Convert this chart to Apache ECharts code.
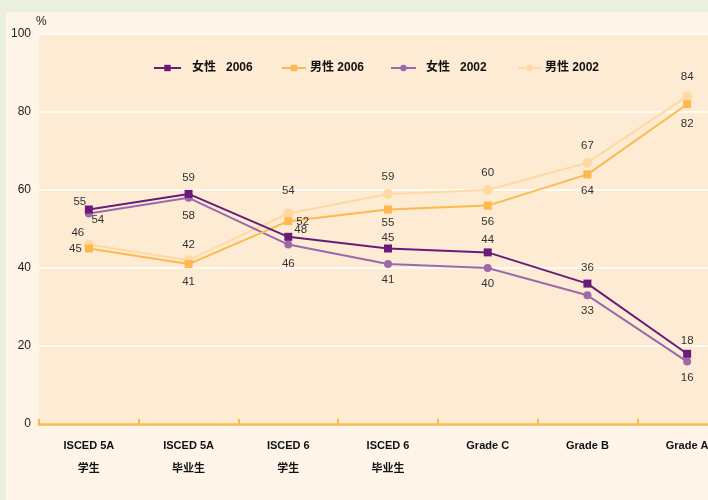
<!DOCTYPE html>
<html>
<head>
<meta charset="utf-8">
<script src="https://cdn.jsdelivr.net/npm/echarts@6/dist/echarts.min.js"></script>
<style>
  html, body { margin: 0; padding: 0; background: #E9F1DE; width: 708px; height: 500px; overflow: hidden; }
  #main { position: absolute; left: 6px; top: 12px; width: 702px; height: 488px; }
</style>
</head>
<body>
<div id="main"></div>
<script>
// 数据
var categories = ['ISCED 5A\n学生', 'ISCED 5A\n毕业生', 'ISCED 6\n学生', 'ISCED 6\n毕业生', 'Grade C', 'Grade B', 'Grade A'];
var seriesNames = ['女性   2006', '男性 2006', '女性   2002', '男性 2002'];
var female2006 = [55, 59, 48, 45, 44, 36, 18];
var male2006 = [45, 41, 52, 55, 56, 64, 82];
var female2002 = [54, 58, 46, 41, 40, 33, 16];
var male2002 = [46, 42, 54, 59, 60, 67, 84];

// 标签位置 (style only)
var female2006Lbl = [{position: 'top', offset: [-9, 8]}, {}, {position: 'right', offset: [-4, -7]}, {position: 'top', offset: [0, 5]}, {position: 'top', offset: [0, 3]}, {}, {position: 'top', offset: [0, 3]}];
var male2006Lbl = [{position: 'left', offset: [3, 0]}, {position: 'bottom', offset: [0, 2]}, {position: 'right', offset: [-2, 1]}, {position: 'bottom', offset: [0, -3]}, {}, {}, {position: 'bottom', offset: [0, 4]}];
var female2002Lbl = [{position: 'bottom', offset: [9, -10]}, {position: 'bottom', offset: [0, 2]}, {position: 'bottom', offset: [0, 3]}, {}, {}, {}, {}];
var male2002Lbl = [{position: 'top', offset: [-11, 5]}, {position: 'top', offset: [0, 2]}, {position: 'top', offset: [0, -6]}, {}, {}, {}, {position: 'top', offset: [0, -3]}];

function build(values, lbls) {
    return values.map(function (v, i) {
        var item = {value: v};
        if (lbls[i].position) item.label = lbls[i];
        return item;
    });
}

var lblStyle = {fontSize: 11.5, color: '#333', fontFamily: 'Liberation Sans, Arial, sans-serif', distance: 6};
var legendText = {fontSize: 12, fontWeight: 'bold', color: '#111', fontFamily: 'Liberation Sans, Noto Sans CJK SC, sans-serif'};

// 每个图例单独放置
var legendLeft = [142, 270, 379, 506];
var legendWidth = [27, 24, 25, 23];
var legendPad = [6, -1, 5, -1];
var legends = seriesNames.map(function (n, i) {
    return {
        top: 45,
        left: legendLeft[i],
        itemWidth: legendWidth[i],
        itemHeight: 8,
        textStyle: Object.assign({padding: [0, 0, 0, legendPad[i]]}, legendText),
        data: [n]
    };
});

var option = {
    backgroundColor: '#FEF4E8',
    animation: false,
    legend: legends,
    grid: {
        left: 33,
        top: 22,
        height: 390,
        width: 698,
        outerBoundsMode: 'none',
        containLabel: false,
        show: true,
        backgroundColor: '#FDEBD4',
        borderWidth: 0
    },
    xAxis: {
        type: 'category',
        data: categories,
        boundaryGap: true,
        axisLine: {lineStyle: {color: '#FDB94E', width: 2.5}},
        axisTick: {show: true, interval: 0, inside: true, length: 5, lineStyle: {color: '#FDB94E', width: 2}},
        axisLabel: {
            margin: 10,
            interval: 0,
            fontSize: 11,
            fontWeight: 'bold',
            lineHeight: 23,
            color: '#111',
            fontFamily: 'Liberation Sans Narrow, Liberation Sans, Noto Sans CJK SC, sans-serif'
        }
    },
    yAxis: {
        type: 'value',
        min: 0,
        max: 100,
        interval: 20,
        name: '%',
        nameGap: 4,
        nameTextStyle: {fontSize: 12, color: '#222', align: 'left', padding: [0, 0, 0, -3]},
        axisLine: {show: false},
        axisTick: {show: false},
        axisLabel: {fontSize: 12, color: '#222', margin: 8, fontFamily: 'Liberation Sans, Arial, sans-serif'},
        splitLine: {lineStyle: {color: '#FFFFFF', width: 1.5}}
    },
    series: [
        {
            name: seriesNames[0], type: 'line', data: build(female2006, female2006Lbl),
            symbol: 'rect', symbolSize: 8, z: 5,
            itemStyle: {color: '#6A1B7A'}, lineStyle: {color: '#6A1B7A', width: 2},
            label: Object.assign({show: true, position: 'top'}, lblStyle)
        },
        {
            name: seriesNames[1], type: 'line', data: build(male2006, male2006Lbl),
            symbol: 'rect', symbolSize: 8, z: 4,
            itemStyle: {color: '#FDB94E'}, lineStyle: {color: '#FDB94E', width: 2},
            label: Object.assign({show: true, position: 'bottom'}, lblStyle)
        },
        {
            name: seriesNames[2], type: 'line', data: build(female2002, female2002Lbl),
            symbol: 'circle', symbolSize: 8, z: 3,
            itemStyle: {color: '#9A6AAA'}, lineStyle: {color: '#9A6AAA', width: 2},
            label: Object.assign({show: true, position: 'bottom'}, lblStyle)
        },
        {
            name: seriesNames[3], type: 'line', data: build(male2002, male2002Lbl),
            symbol: 'circle', symbolSize: 10, z: 2,
            itemStyle: {color: '#FEDAA2'}, lineStyle: {color: '#FEDAA2', width: 2},
            label: Object.assign({show: true, position: 'top'}, lblStyle)
        }
    ]
};

var myChart = echarts.init(document.getElementById('main'), null, {renderer: 'canvas'});
myChart.setOption(option);
</script>
</body>
</html>
